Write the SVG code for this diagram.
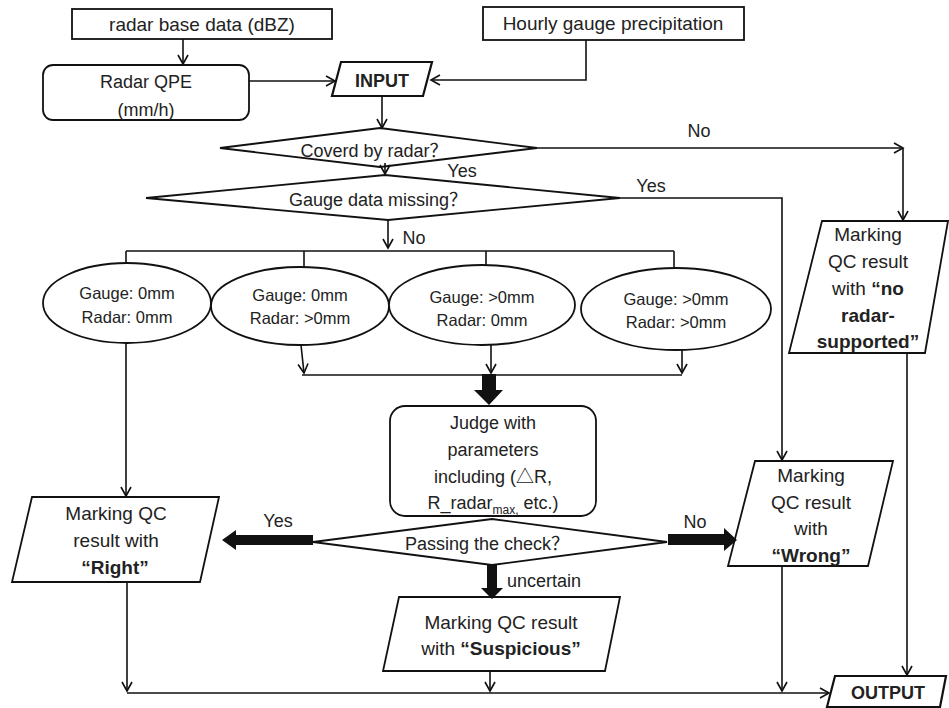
<svg xmlns="http://www.w3.org/2000/svg" width="949" height="708" viewBox="0 0 949 708">
<defs>
<marker id="ah" markerUnits="userSpaceOnUse" markerWidth="12" markerHeight="12" refX="10" refY="6" orient="auto">
<path d="M1,1 L10,6 L1,11" fill="none" stroke="#111" stroke-width="1.6"/>
</marker>
<style>
.s{fill:#fff;stroke:#111;stroke-width:1.8}
.c{fill:none;stroke:#111;stroke-width:1.6}
.a{fill:none;stroke:#111;stroke-width:1.6;marker-end:url(#ah)}
.t{font-family:"Liberation Sans","Noto Sans CJK SC","DejaVu Sans",sans-serif;font-size:18px;fill:#222;text-anchor:middle}
.e{font-size:16.5px}
.m{font-size:19px}
.b{font-weight:bold}
.k{fill:#111;stroke:none}
</style>
</defs>
<rect width="949" height="708" fill="#fff"/>

<g id="radar-base">
<rect class="s" x="72" y="9" width="260" height="30"/>
<text class="t m" x="202" y="31">radar base data (dBZ)</text>
</g>
<g id="gauge-precip">
<rect class="s" x="483" y="7" width="261" height="33"/>
<text class="t m" x="613" y="30">Hourly gauge precipitation</text>
</g>
<g id="radar-qpe">
<rect class="s" x="43" y="65" width="206" height="55" rx="10"/>
<text class="t" x="146" y="88">Radar QPE</text>
<text class="t" x="146" y="116">(mm/h)</text>
</g>
<g id="input">
<polygon class="s" points="341,62 432,62 423,96 332,96" style="stroke-width:2.2"/>
<text class="t b" x="382" y="87">INPUT</text>
</g>
<g id="covered">
<polygon class="s" points="220,148 380,128 537,148 380,167"/>
<text class="t" x="374" y="157">Coverd by radar？</text>
</g>
<g id="gauge-missing">
<polygon class="s" points="146,198 385,175 620,198 388,220"/>
<text class="t" x="378" y="206">Gauge data missing？</text>
</g>
<g id="case1">
<ellipse class="s" cx="127" cy="303" rx="84" ry="40"/>
<text class="t e" x="127" y="299">Gauge: 0mm</text>
<text class="t e" x="127" y="323">Radar: 0mm</text>
</g>
<g id="case2">
<ellipse class="s" cx="300" cy="306" rx="89" ry="39"/>
<text class="t e" x="300" y="301">Gauge: 0mm</text>
<text class="t e" x="300" y="324">Radar: &gt;0mm</text>
</g>
<g id="case3">
<ellipse class="s" cx="482" cy="305" rx="93" ry="40"/>
<text class="t e" x="482" y="303">Gauge: &gt;0mm</text>
<text class="t e" x="482" y="326">Radar: 0mm</text>
</g>
<g id="case4">
<ellipse class="s" cx="676" cy="309" rx="95" ry="41"/>
<text class="t e" x="676" y="305">Gauge: &gt;0mm</text>
<text class="t e" x="676" y="328">Radar: &gt;0mm</text>
</g>
<g id="judge">
<rect class="s" x="390" y="406" width="206" height="110" rx="15"/>
<text class="t" x="493" y="429">Judge with</text>
<text class="t" x="493" y="456">parameters</text>
<text class="t" x="493" y="483">including (△R,</text>
<text class="t" x="493" y="509">R_radar<tspan dy="5" font-size="12">max,</tspan><tspan dy="-5"> etc.)</tspan></text>
</g>
<g id="passing">
<polygon class="s" points="313,542 492,519 667,542 492,565"/>
<text class="t" x="487" y="550">Passing the check？</text>
</g>
<g id="right">
<polygon class="s" points="32,497 219,497 200,582 12,582"/>
<text class="t m" x="116" y="520">Marking QC</text>
<text class="t m" x="116" y="547">result with</text>
<text class="t m b" x="115" y="574">“Right”</text>
</g>
<g id="suspicious">
<polygon class="s" points="399,597 620,597 605,671 383,671"/>
<text class="t m" x="501" y="629">Marking QC result</text>
<text class="t m" x="501" y="655">with <tspan class="b">“Suspicious”</tspan></text>
</g>
<g id="wrong">
<polygon class="s" points="755,461 893,461 868,566 728,566"/>
<text class="t m" x="811" y="482">Marking</text>
<text class="t m" x="811" y="509">QC result</text>
<text class="t m" x="811" y="535">with</text>
<text class="t m b" x="811" y="562">“Wrong”</text>
</g>
<g id="no-radar">
<polygon class="s" points="822,221 948,221 925,353 789,353"/>
<text class="t m" x="868" y="241">Marking</text>
<text class="t m" x="868" y="268">QC result</text>
<text class="t m" x="868" y="295">with <tspan class="b">“no</tspan></text>
<text class="t m b" x="868" y="322">radar-</text>
<text class="t m b" x="868" y="348">supported”</text>
</g>
<g id="output">
<polygon class="s" points="835,676 946,676 940,707 827,707" style="stroke-width:2.2"/>
<text class="t b" x="888" y="699">OUTPUT</text>
</g>

<g id="connectors">
<line class="a" x1="183" y1="39" x2="183" y2="64"/>
<line class="a" x1="249" y1="81" x2="335" y2="81"/>
<polyline class="a" points="586,40 586,80 431,80"/>
<line class="a" x1="382" y1="96" x2="382" y2="128"/>
<line class="a" x1="537" y1="148" x2="903" y2="148"/>
<line class="a" x1="903" y1="148" x2="903" y2="220"/>
<line class="a" x1="385" y1="163" x2="385" y2="174"/>
<polyline class="a" points="620,198 782,198 782,460"/>
<line class="a" x1="388" y1="220" x2="388" y2="248"/>
<line class="c" x1="126" y1="251" x2="674" y2="251"/>
<line class="c" x1="126" y1="251" x2="126" y2="264"/>
<line class="c" x1="304" y1="251" x2="304" y2="267"/>
<line class="c" x1="486" y1="251" x2="486" y2="265"/>
<line class="c" x1="674" y1="251" x2="674" y2="268"/>
<line class="a" x1="301" y1="345" x2="304" y2="373"/>
<line class="a" x1="491" y1="345" x2="491" y2="373"/>
<line class="a" x1="682" y1="350" x2="682" y2="373"/>
<line class="c" x1="302" y1="375" x2="682" y2="375"/>
<polygon class="k" points="482,374 496,374 496,390 503,390 489,405 474,390 482,390"/>
<line class="a" x1="126" y1="343" x2="126" y2="496"/>
<polygon class="k" points="313,535 313,545 236,545 236,550 222,540 236,530 236,535"/>
<polygon class="k" points="668,534 724,534 724,528 737,540 724,551 724,545 668,545"/>
<polygon class="k" points="487,565 497,565 497,588 503,588 492,599 481,588 487,588"/>
<line class="a" x1="127" y1="582" x2="127" y2="691"/>
<line class="a" x1="127" y1="693" x2="829" y2="693"/>
<line class="a" x1="490" y1="671" x2="490" y2="691"/>
<line class="a" x1="782" y1="566" x2="782" y2="691"/>
<line class="a" x1="907" y1="353" x2="907" y2="675"/>
<text class="t" x="699" y="137">No</text>
<text class="t" x="462" y="177">Yes</text>
<text class="t" x="651" y="192">Yes</text>
<text class="t" x="414" y="244">No</text>
<text class="t" x="278" y="527">Yes</text>
<text class="t" x="695" y="528">No</text>
<text class="t" x="507" y="587" style="text-anchor:start">uncertain</text>
</g>
</svg>
